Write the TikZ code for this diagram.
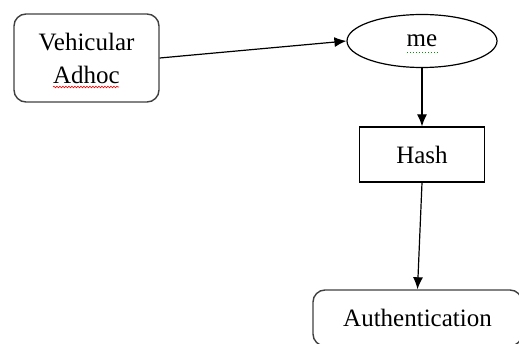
\documentclass[tikz,border=0pt]{standalone}
\usepackage{fontspec}
\setmainfont{Liberation Serif}
\usetikzlibrary{arrows.meta,shapes.geometric,decorations.pathmorphing}

\begin{document}
\begin{tikzpicture}[x=1pt,y=-1pt,
	blockfont/.style={font=\fontsize{25}{33}\selectfont},
	roundbox/.style={blockfont,draw=black!75,line width=1.4pt,rounded corners=12pt,align=center},
	plainbox/.style={blockfont,draw,line width=1.2pt},
	link/.style={line width=1.2pt,-{Latex[length=12pt,width=10pt]}}]
				\useasboundingbox(0,0)rectangle(519,344);
				\node[roundbox,minimum width=145pt,minimum height=88pt](vehicular)at(86.5,58){Vehicular\\Adhoc};
				\node[plainbox,ellipse,minimum width=150pt,minimum height=53pt](me)at(422,41){me};
				\node[plainbox,minimum width=125pt,minimum height=55pt](hash)at(422,154.5){Hash};
				\node[roundbox,minimum width=209pt,minimum height=56pt](auth)at(417.5,318){Authentication};
				\draw[link](vehicular.east)--(me.west);
				\draw[link](me.south)--(hash.north);
				\draw[link](hash.south)--(auth.north);
				% spelling marks
				\draw[red,line width=0.6pt,decorate,decoration={snake,amplitude=0.8pt,segment length=3pt}](53,87)--(119,87);
				\draw[green!60!black,line width=1pt,dotted](407,53)--(438,53);
			\end{tikzpicture}
\end{document}
